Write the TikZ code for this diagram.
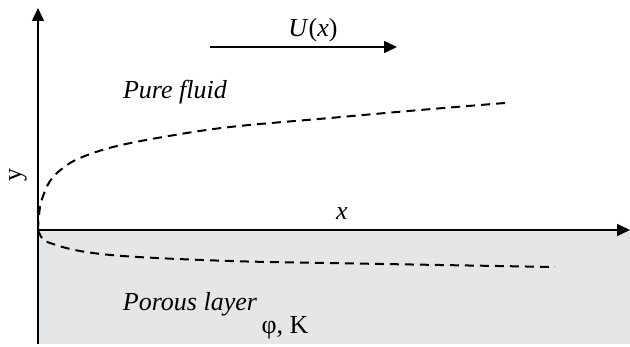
\documentclass[tikz,border=0pt]{standalone}
\usepackage{fontspec}
\setmainfont{Liberation Serif}
\usetikzlibrary{arrows.meta}
\definecolor{porousgray}{RGB}{229,230,232}
\tikzset{
  axisline/.style={line width=1.6pt, -{Triangle[length=13pt,width=12pt]}},
  flowarrow/.style={line width=1.6pt, -{Triangle[length=13pt,width=12pt]}},
  bl/.style={line width=2pt, dash pattern=on 9pt off 6pt},
  lbl/.style={inner sep=0pt, font=\fontsize{26}{30}\selectfont},
}
\begin{document}
\begin{tikzpicture}[x=1pt,y=-1pt]
\useasboundingbox (0,0) rectangle (630,347);
\fill[porousgray] (38,230) rectangle (630,344);
\coordinate (O) at (38,230);
\coordinate (ybot) at (38,344);
\coordinate (ytip) at (38,8);
\coordinate (xtip) at (630,230);
\coordinate (ua) at (210,47);
\coordinate (ub) at (397,47);
\draw[axisline] (ybot) -- (ytip);
\draw[axisline] (O) -- (xtip);
\draw[flowarrow] (ua) -- (ub);
\draw[bl] plot[smooth, tension=0.6] coordinates {(38,230) (39,215) (41.7,200) (50,181) (63,168) (80,158) (113,147) (163,137) (230,127) (330,118) (420,110) (505,103)};
\draw[bl] plot[smooth, tension=0.6] coordinates {(38,230) (42,238) (50,243) (80,251) (130,256.5) (230,261) (327,263) (440,265) (555,267)};
\node[lbl] (U) at (313,30) {\textit{U}(\textit{x})};
\node[lbl] (pf) at (175,92) {\textit{Pure fluid}};
\node[lbl, rotate=90] (ylab) at (18,175) {y};
\node[lbl] (xlab) at (342,214) {\textit{x}};
\node[lbl] (pl) at (190,304) {\textit{Porous layer}};
\node[lbl] (phik) at (285,328) {φ, K};
\end{tikzpicture}
\end{document}
